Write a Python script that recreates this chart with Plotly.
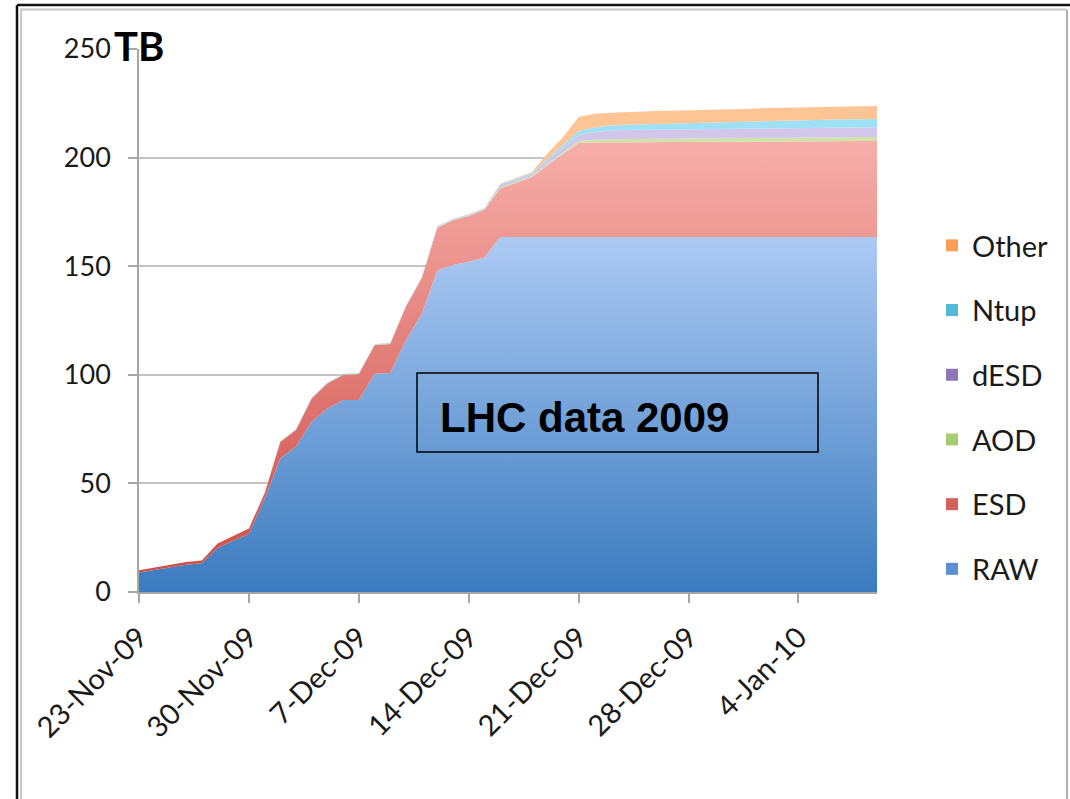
import pandas as pd
import plotly.graph_objects as go

# Daily cumulative volume (TB) per data format, 23-Nov-2009 .. 9-Jan-2010
dates = pd.date_range("2009-11-23", periods=48, freq="D")

raw = [9.0, 10.3, 11.5, 12.6, 13.2, 20.3, 23.6, 26.8, 43.0, 61.5,
       67.0, 78.5, 84.5, 88.4, 88.4, 100.5, 100.8, 116.0, 128.0, 148.0,
       150.5, 152.0, 154.0, 163.5, 163.5, 163.5, 163.5, 163.5, 163.5, 163.5,
       163.5, 163.5, 163.5, 163.5, 163.5, 163.5, 163.5, 163.5, 163.5, 163.5,
       163.5, 163.5, 163.5, 163.5, 163.5, 163.5, 163.5, 163.5]
esd = [1.0, 1.0, 1.1, 1.2, 1.3, 2.0, 2.2, 2.4, 2.5, 7.6,
       7.6, 10.6, 11.5, 11.5, 11.9, 13.1, 13.4, 15.3, 16.3, 19.7,
       20.6, 21.1, 22.0, 22.3, 24.8, 27.5, 33.0, 38.2, 43.2, 43.5,
       43.6, 43.6, 43.6, 43.7, 43.7, 43.7, 43.8, 43.8, 43.8, 43.9,
       43.9, 43.9, 44.0, 44.0, 44.0, 44.1, 44.1, 44.1]
aod = [0.0, 0.0, 0.0, 0.0, 0.0, 0.0, 0.0, 0.0, 0.1, 0.1,
       0.1, 0.1, 0.1, 0.2, 0.2, 0.2, 0.2, 0.2, 0.2, 0.3,
       0.3, 0.3, 0.3, 0.5, 0.5, 0.5, 0.6, 0.7, 0.9, 1.2,
       1.4, 1.5, 1.5, 1.5, 1.5, 1.6, 1.6, 1.6, 1.6, 1.7,
       1.7, 1.7, 1.8, 1.8, 1.8, 1.9, 1.9, 1.9]
desd = [0.0, 0.0, 0.0, 0.0, 0.0, 0.0, 0.0, 0.0, 0.1, 0.2,
        0.2, 0.2, 0.2, 0.2, 0.2, 0.2, 0.2, 0.2, 0.2, 0.3,
        0.3, 0.3, 0.3, 0.8, 0.8, 0.8, 1.4, 2.0, 2.8, 3.6,
        4.0, 4.1, 4.2, 4.2, 4.2, 4.3, 4.3, 4.3, 4.3, 4.4,
        4.4, 4.4, 4.4, 4.5, 4.5, 4.5, 4.5, 4.5]
ntup = [0.0, 0.0, 0.0, 0.0, 0.0, 0.0, 0.0, 0.0, 0.0, 0.1,
        0.1, 0.1, 0.1, 0.1, 0.1, 0.1, 0.1, 0.2, 0.2, 0.2,
        0.2, 0.2, 0.2, 0.5, 0.5, 0.5, 0.9, 1.3, 1.9, 2.1,
        2.3, 2.4, 2.5, 2.6, 2.7, 2.8, 2.9, 3.0, 3.1, 3.2,
        3.3, 3.4, 3.4, 3.5, 3.6, 3.7, 3.7, 3.8]
other = [0.0, 0.0, 0.0, 0.0, 0.0, 0.0, 0.0, 0.0, 0.0, 0.0,
         0.0, 0.0, 0.0, 0.0, 0.0, 0.0, 0.0, 0.0, 0.0, 0.0,
         0.0, 0.0, 0.0, 0.4, 0.4, 0.4, 2.4, 3.7, 6.4, 6.3,
         5.8, 5.9, 6.0, 6.0, 6.0, 6.0, 6.0, 6.0, 6.0, 6.0,
         6.0, 6.0, 6.0, 6.0, 6.0, 6.0, 6.0, 6.0]

y_ticks = [0, 50, 100, 150, 200, 250]

# name, values, area gradient (low -> high), legend swatch colour
series = [
    ("RAW", raw, ["#3b7bbf", "#adcaf4"], "#5b8fd2"),
    ("ESD", esd, ["#cf4e47", "#f7aeaa"], "#d4625c"),
    ("AOD", aod, ["#aacf7a", "#cde4a6"], "#a8cc72"),
    ("dESD", desd, ["#b4a0d8", "#d2c6ea"], "#8f76b8"),
    ("Ntup", ntup, ["#7fd2ea", "#9ee0f4"], "#52b9d6"),
    ("Other", other, ["#f9b47a", "#fdc596"], "#f7a055"),
]

FONT = "Lato, Liberation Sans, Arial, sans-serif"

fig = go.Figure()
for name, vals, grad, _ in series:
    fig.add_trace(go.Scatter(
        x=dates, y=vals, name=name, stackgroup="one", mode="lines",
        line=dict(width=0),
        fillgradient=dict(type="vertical", colorscale=[[0, grad[0]], [1, grad[1]]]),
        showlegend=False, hoverinfo="x+y+name",
    ))

# legend swatches, top to bottom
for name, _, _, swatch in reversed(series):
    fig.add_trace(go.Scatter(
        x=[None], y=[None], name=name, mode="markers",
        marker=dict(symbol="square", size=17, color=swatch),
        legendgroup=name, showlegend=True,
    ))

L, R, T, B = 139, 193, 49, 207
W, H = 1070, 799
pw, ph = W - L - R, H - T - B


def px(x):
    return (x - L) / pw


def py(y):
    return (H - B - y) / ph


shapes = [
    # double frame around the slide
    dict(type="line", xref="paper", yref="paper", x0=px(17), x1=px(1070), y0=py(5), y1=py(5),
         line=dict(color="#111111", width=2.5)),
    dict(type="line", xref="paper", yref="paper", x0=px(17), x1=px(17), y0=py(5), y1=py(799),
         line=dict(color="#111111", width=2.5)),
    dict(type="line", xref="paper", yref="paper", x0=px(20), x1=px(1066), y0=py(9.5), y1=py(9.5),
         line=dict(color="#c8c8c8", width=2)),
    dict(type="line", xref="paper", yref="paper", x0=px(21), x1=px(21), y0=py(9.5), y1=py(799),
         line=dict(color="#c8c8c8", width=2)),
    dict(type="line", xref="paper", yref="paper", x0=px(1067), x1=px(1067), y0=py(9.5), y1=py(799),
         line=dict(color="#b0b0b0", width=2)),
    # caption box
    dict(type="rect", xref="paper", yref="paper", x0=px(417), x1=px(818), y0=py(373), y1=py(452),
         line=dict(color="#000000", width=1.5), fillcolor="rgba(0,0,0,0)"),
]

annotations = [
    dict(text="<b>LHC data 2009</b>", xref="paper", yref="paper", x=px(438), y=py(417),
         xanchor="left", yanchor="middle", showarrow=False,
         font=dict(family="Liberation Sans, Arial, sans-serif", size=42, color="#000000")),
    dict(text="<b>TB</b>", xref="paper", yref="paper", x=px(112), y=py(46),
         xanchor="left", yanchor="middle", showarrow=False,
         font=dict(family=FONT, size=40, color="#000000")),
]

fig.update_layout(
    width=W, height=H,
    margin=dict(l=L, r=R, t=T, b=B, pad=0),
    paper_bgcolor="white", plot_bgcolor="white",
    font=dict(family=FONT, size=27, color="#1a1a1a"),
    showlegend=True,
    legend=dict(x=px(932), y=py(220), xanchor="left", yanchor="top",
                font=dict(family=FONT, size=29, color="#1a1a1a"),
                tracegroupgap=24, itemsizing="constant", bgcolor="rgba(0,0,0,0)"),
    shapes=shapes, annotations=annotations,
    xaxis=dict(
        type="date", range=[dates[0], dates[-1]],
        tick0=dates[0], dtick=7 * 24 * 3600 * 1000, tickformat="%-d-%b-%y",
        tickangle=-45, showgrid=False, zeroline=False,
        showline=True, linecolor="#a6a6a6", linewidth=1.5,
        ticks="outside", ticklen=9, tickcolor="#a6a6a6", tickwidth=1.5,
        ticklabelstandoff=6,
        tickfont=dict(family=FONT, size=29, color="#1a1a1a"),
    ),
    yaxis=dict(
        range=[0, 250], tickvals=y_ticks, showgrid=True, gridcolor="#c4c4c4", gridwidth=2,
        zeroline=False, showline=True, linecolor="#a6a6a6", linewidth=1.5,
        ticks="outside", ticklen=9, tickcolor="#a6a6a6", tickwidth=1.5,
        ticklabelstandoff=12,
        tickfont=dict(family=FONT, size=27, color="#1a1a1a"),
    ),
)

fig.write_html("out.html")
